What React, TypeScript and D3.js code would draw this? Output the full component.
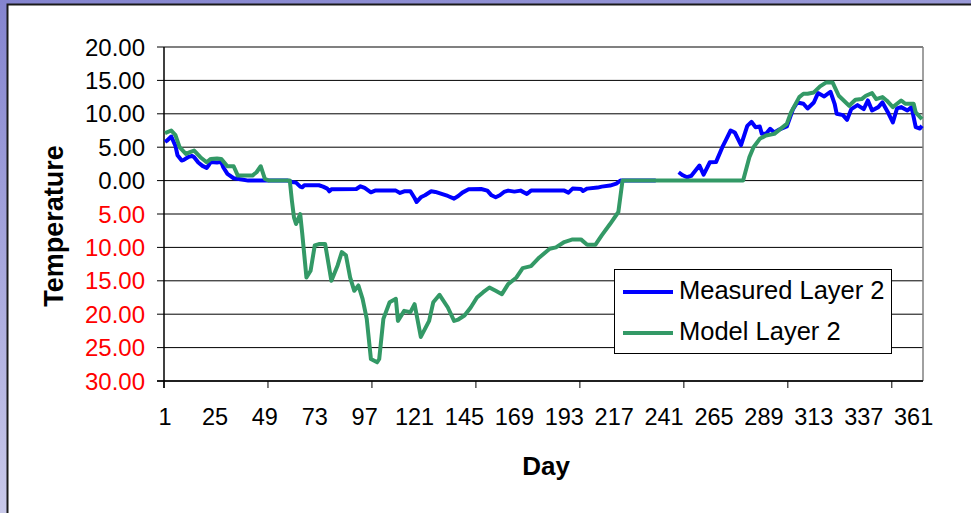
import React from "react";
import * as d3 from "d3";

// ---- data ----
const dayCount = 365;
const xTickLabels = [1, 25, 49, 73, 97, 121, 145, 169, 193, 217, 241, 265, 289, 313, 337, 361];
const xTickMarks = [1, 51, 101, 151, 201, 251, 301, 351];
const yTicks = [20, 15, 10, 5, 0, -5, -10, -15, -20, -25, -30];

const measuredLayer2: [number, number | null][] = [
  [1, 5.8], [2, 6.0], [4, 6.6], [6, 5.2], [7, 3.8], [9, 3.0], [10, 3.1], [12, 3.5], [14, 3.7], [15, 3.5],
  [17, 2.7], [19, 2.2], [21, 1.9], [22, 2.3], [23, 2.8], [26, 2.7], [28, 2.8], [29, 2.0], [31, 1.0],
  [34, 0.35], [38, 0.15], [41, 0], [60, 0], [62, -0.2], [64, -0.3], [66, -0.9], [67, -1.0], [68, -0.7],
  [75, -0.7], [77, -0.9], [79, -1.2], [80, -1.6], [81, -1.3], [93, -1.25], [95, -0.85], [97, -1.1],
  [100, -1.75], [102, -1.5], [112, -1.5], [114, -1.85], [116, -1.6], [119, -1.6], [121, -2.6], [122, -3.2],
  [124, -2.5], [126, -2.2], [129, -1.6], [131, -1.7], [134, -2.0], [137, -2.3], [140, -2.7], [142, -2.3],
  [144, -1.8], [147, -1.3], [153, -1.25], [156, -1.5], [158, -2.2], [160, -2.5], [162, -2.2], [164, -1.7],
  [166, -1.5], [169, -1.65], [172, -1.5], [175, -2.0], [177, -1.5], [193, -1.5], [195, -1.8], [197, -1.2],
  [201, -1.25], [202, -1.55], [204, -1.2], [209, -1.05], [211, -0.9], [215, -0.75], [218, -0.45], [220, 0],
  [237, 0], [238, null],
  [248, 1.25], [250, 0.8], [252, 0.5], [254, 0.7], [258, 2.25], [260, 0.9], [263, 2.75], [266, 2.8],
  [269, 5.0], [271, 6.25], [273, 7.5], [275, 7.2], [278, 5.3], [281, 8.2], [283, 8.8], [285, 8.0],
  [287, 8.1], [288, 7.0], [290, 7.0], [292, 7.75], [294, 7.2], [296, 7.6], [300, 8.1], [303, 10.7],
  [305, 11.7], [308, 11.5], [310, 10.8], [313, 11.7], [315, 13.1], [318, 12.6], [321, 13.3], [323, 11.5],
  [324, 10.0], [327, 9.8], [329, 9.1], [331, 10.7], [334, 11.3], [337, 10.7], [339, 12.0], [341, 10.5],
  [344, 11.0], [346, 11.7], [349, 10.0], [351, 8.7], [353, 10.8], [355, 11.0], [358, 10.5], [360, 11.0],
  [362, 8.0], [364, 7.8], [365, 8.2],
];

const modelLayer2: [number, number | null][] = [
  [1, 7.1], [4, 7.5], [6, 6.8], [8, 5.0], [11, 4.0], [13, 4.25], [15, 4.5], [18, 3.5], [21, 2.75],
  [23, 3.25], [26, 3.3], [28, 3.25], [31, 2.15], [34, 2.15], [36, 0.75], [43, 0.75], [45, 1.25],
  [47, 2.15], [49, 0.25], [51, 0], [61, 0], [62, -3.0], [63, -5.5], [64, -6.5], [66, -5.0], [67, -8.0],
  [69, -14.5], [71, -13.5], [73, -9.7], [75, -9.5], [78, -9.5], [81, -15.0], [84, -12.7], [86, -10.7],
  [88, -11.2], [90, -14.5], [92, -16.5], [94, -15.7], [96, -17.7], [98, -20.7], [100, -26.7], [103, -27.2],
  [104, -26.7], [106, -20.7], [109, -18.2], [112, -17.7], [113, -21.0], [116, -19.5], [119, -19.7],
  [121, -18.5], [124, -23.4], [128, -21.0], [130, -18.2], [133, -17.1], [137, -19.0], [140, -21.0],
  [142, -20.8], [145, -20.2], [148, -19.0], [151, -17.5], [154, -16.7], [157, -16.0], [160, -16.5],
  [163, -17.0], [166, -15.5], [170, -14.5], [173, -13.1], [177, -12.8], [181, -11.5], [186, -10.2],
  [189, -10.0], [193, -9.2], [197, -8.8], [201, -8.8], [204, -9.6], [208, -9.6], [211, -8.2], [215, -6.5],
  [219, -4.7], [221, 0], [279, 0], [282, 3.5], [284, 5.0], [287, 6.25], [290, 6.75], [294, 7.0],
  [297, 7.75], [300, 8.5], [302, 10.2], [306, 12.5], [308, 13.0], [310, 13.0], [313, 13.2], [316, 14.1],
  [319, 14.7], [322, 14.7], [325, 12.7], [330, 11.2], [333, 12.1], [336, 12.2], [338, 12.7], [341, 13.1],
  [343, 12.2], [346, 12.5], [348, 12.0], [351, 11.0], [353, 11.5], [355, 12.0], [357, 11.5], [361, 11.5],
  [362, 10.2], [365, 9.2],
];

const seriesNames = ["Measured Layer 2", "Model Layer 2"];
const seriesColors = ["#0000ff", "#339966"];

export default function App() {
  const W = 971, H = 513;
  const left = 164, right = 923, top = 47, bottom = 381;
  const days = d3.range(1, dayCount + 1);
  const x = d3.scaleBand<number>().domain(days).range([left, right]).padding(0);
  const cx = (d: number) => (x(d) as number) + x.bandwidth() / 2;
  const y = d3.scaleLinear().domain([-30, 20]).range([bottom, top]);

  const line = d3
    .line<[number, number | null]>()
    .defined((d) => d[1] !== null)
    .x((d) => cx(d[0]))
    .y((d) => y(d[1] as number));

  const font = "'Liberation Sans', Arial, sans-serif";

  return (
    <svg width={W} height={H} style={{ position: "absolute", left: 0, top: 0 }} fontFamily={font}>
      <defs>
        <linearGradient id="bg" x1="0" y1="0" x2="0.3" y2="1">
          <stop offset="0" stopColor="#8484cf" />
          <stop offset="1" stopColor="#cfcfec" />
        </linearGradient>
      </defs>
      <rect x={0} y={0} width={W} height={H} fill="url(#bg)" />
      <rect x={7.5} y={4.5} width={W + 10} height={H + 10} fill="#ffffff" stroke="#1a1a1a" strokeWidth={2} />

      {/* gridlines */}
      {yTicks.map((t) => (
        <line key={"g" + t} x1={left} x2={right} y1={y(t)} y2={y(t)} stroke="#000" strokeWidth={1} />
      ))}
      {/* plot border top/right */}
      <line x1={left} x2={right} y1={top} y2={top} stroke="#808080" strokeWidth={1.5} />
      <line x1={right} x2={right} y1={top} y2={bottom} stroke="#808080" strokeWidth={1.5} />

      {/* axes */}
      <line x1={left} x2={left} y1={top} y2={bottom + 7} stroke="#000" strokeWidth={1.5} />
      <line x1={left - 7} x2={right} y1={bottom} y2={bottom} stroke="#000" strokeWidth={1.5} />
      {yTicks.map((t) => (
        <g key={"yt" + t}>
          <line x1={left - 7} x2={left} y1={y(t)} y2={y(t)} stroke="#000" strokeWidth={1} />
          <text x={left - 19} y={y(t) + 8.5} textAnchor="end" fontSize={24} fill={t < 0 ? "#ff0000" : "#000"}>
            {Math.abs(t).toFixed(2)}
          </text>
        </g>
      ))}
      {xTickMarks.map((d) => (
        <line key={"xm" + d} x1={x(d) as number} x2={x(d) as number} y1={bottom} y2={bottom + 7} stroke="#000" strokeWidth={1} />
      ))}
      {xTickLabels.map((d) => (
        <text key={"xl" + d} x={cx(d)} y={425} textAnchor="middle" fontSize={23.5} fill="#000">
          {d}
        </text>
      ))}

      {/* series */}
      <path d={line(measuredLayer2) || ""} fill="none" stroke={seriesColors[0]} strokeWidth={4} strokeLinejoin="round" />
      <path d={line(modelLayer2) || ""} fill="none" stroke={seriesColors[1]} strokeWidth={4} strokeLinejoin="round" />

      {/* titles */}
      <text x={63} y={226} transform="rotate(-90 63 226)" textAnchor="middle" fontSize={27} fontWeight="bold" fill="#000">
        Temperature
      </text>
      <text x={546} y={475} textAnchor="middle" fontSize={26} fontWeight="bold" fill="#000">
        Day
      </text>

      {/* legend */}
      <rect x={614.5} y={269.5} width={277} height={84} fill="#fff" stroke="#000" strokeWidth={1} />
      {seriesNames.map((n, i) => (
        <g key={n}>
          <line x1={623} x2={673} y1={292 + i * 41} y2={292 + i * 41} stroke={seriesColors[i]} strokeWidth={4} />
          <text x={679} y={298.5 + i * 41} fontSize={25.5} fill="#000">
            {n}
          </text>
        </g>
      ))}
    </svg>
  );
}
